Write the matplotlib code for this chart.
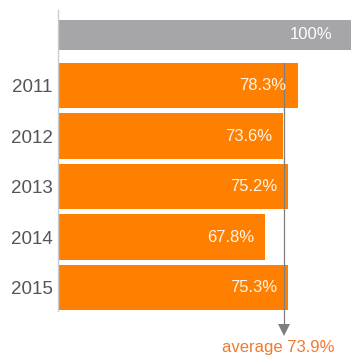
import matplotlib.pyplot as plt

plt.rcParams["font.family"] = ["Liberation Sans", "DejaVu Sans"]

years = ["2011", "2012", "2013", "2014", "2015"]
shares = [78.3, 73.6, 75.2, 67.8, 75.3]
total = 100
average = 73.9

ORANGE = "#ff8000"
GREY = "#a5a5aa"
LINE = "#7f7f7f"


def main():

    fig = plt.figure(figsize = (3.51, 3.6), dpi = 100)
    ax = fig.add_axes([58 / 351, 49 / 360, 293 / 351, 301 / 360])

    # reference bar on top, yearly bars underneath
    ax.barh(0, total, height = 0.61, color = GREY, zorder = 2)
    rows = list(range(1, len(years) + 1))
    ax.barh(rows, shares, height = 0.91, color = ORANGE, zorder = 2)

    ax.annotate(f"{total}%", xy = (total, 0), xytext = (-22.5, 0),
                textcoords = "offset points", ha = "right", va = "center",
                color = "white", fontsize = 12, annotation_clip = False)
    for row, share in zip(rows, shares):
        ax.annotate(f"{share}%", xy = (share, row), xytext = (-8, 0),
                    textcoords = "offset points", ha = "right", va = "center",
                    color = "#fff4ea", fontsize = 12, zorder = 4)

    # average marker running down to the label below the chart
    top = 1 - 0.455
    ax.plot([average, average], [top, 5.70], color = LINE, lw = 0.9,
            zorder = 3, clip_on = False)
    ax.plot(average, 5.84, marker = "v", ms = 8, color = LINE,
            markeredgewidth = 0, clip_on = False, zorder = 3)
    ax.text(average - 2, 6.18, f"average {average}%", ha = "center",
            va = "center", color = "#f07a30", fontsize = 12, clip_on = False)

    ax.set_xlim(0, 293 / 3.06)
    ax.set_ylim(5.465, -0.495)
    ax.set_yticks(rows)
    ax.set_yticklabels(years, fontsize = 13.5, color = "#555555")
    ax.tick_params(axis = "y", length = 0, pad = 4)
    ax.set_xticks([])

    for side in ["top", "right", "bottom"]:
        ax.spines[side].set_visible(False)
    ax.spines["left"].set_color("#cccccc")
    ax.spines["left"].set_linewidth(1)

    fig.savefig("out.png", dpi = 100)
    plt.close(fig)


if __name__ == "__main__":
    main()
